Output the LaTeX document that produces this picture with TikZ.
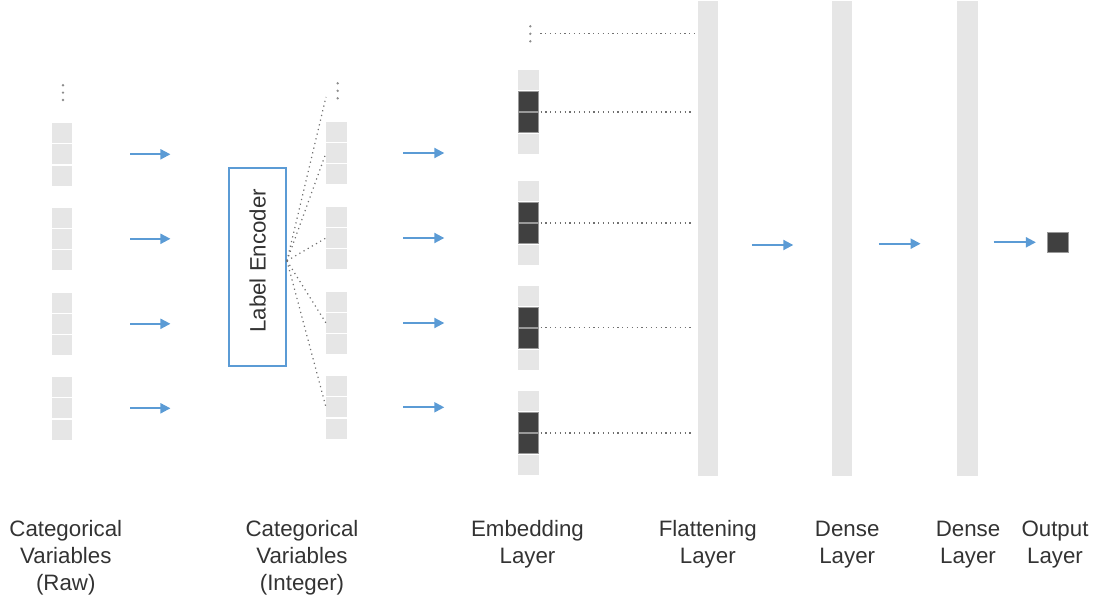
\documentclass[tikz,border=0pt]{standalone}
\usepackage{fontspec}
\usepackage{graphicx}
\setmainfont{Liberation Sans}
\usetikzlibrary{arrows.meta,calc}
\definecolor{cellgray}{HTML}{E6E6E6}
\definecolor{darkcell}{HTML}{404040}
\definecolor{arrowblue}{HTML}{5B9BD5}
\definecolor{dotgray}{HTML}{707070}
\definecolor{txt}{HTML}{333333}
\begin{document}
\begin{tikzpicture}[x=1pt,y=-1pt,
  cell/.style={fill=cellgray, minimum width=20.5pt, minimum height=20pt, inner sep=0pt, outer sep=0pt, anchor=north west},
  dcell/.style={cell, fill=darkcell, draw=black!40, line width=0.6pt},
  bar/.style={fill=cellgray, minimum width=20.3pt, minimum height=475pt, inner sep=0pt, outer sep=0pt, anchor=north west},
  arr/.style={draw=arrowblue, line width=2pt, -{Triangle[length=10pt,width=10pt]}},
  link/.style={draw=dotgray, line width=1.2pt, dash pattern=on 1.2pt off 3.6pt},
  vdot/.style={circle, fill=black!45, inner sep=0pt, minimum size=2.6pt},
  lbl/.style={font=\fontsize{22.3}{27}\selectfont, text=txt, align=center, anchor=base, inner sep=0pt},
  encbox/.style={draw=arrowblue, line width=1.5pt, minimum width=57pt, minimum height=198pt, inner sep=0pt, font=\fontsize{22.3}{27}\selectfont, text=txt}
]
\useasboundingbox (0,0) rectangle (1102,604);

% raw column
\foreach \g/\y in {1/123,2/207.5,3/292.5,4/377}{
  \foreach \c in {0,1,2}{
    \node[cell] (raw\g-\c) at (51.5, \y+\c*21.3) {};
  }
}
\node[vdot] (rawd1) at (63,85.3) {};
\node[vdot] (rawd2) at (63,92.7) {};
\node[vdot] (rawd3) at (63,100) {};

% label encoder
\node[encbox] (enc) at (257.7,266.8) {\rotatebox{90}{\hspace{12pt}Label Encoder}};
\coordinate (fan) at ([yshift=6pt]enc.east);

% integer column
\foreach \g/\y in {1/121.7,2/206.7,3/291.7,4/376}{
  \foreach \c in {0,1,2}{
    \node[cell] (int\g-\c) at (326, \y+\c*21.3) {};
  }
}
\node[vdot] (intd1) at (337.7,83.3) {};
\node[vdot] (intd2) at (337.7,90.8) {};
\node[vdot] (intd3) at (337.7,98.3) {};
\coordinate (intop) at (326,97);

% embedding column
\foreach \g/\y in {1/70,2/181,3/285.7,4/391}{
  \node[cell] (emb\g-0) at (518, \y) {};
  \node[dcell] (emb\g-1) at (518, \y+21.3) {};
  \node[dcell] (emb\g-2) at (518, \y+42.6) {};
  \node[cell] (emb\g-3) at (518, \y+63.9) {};
}
\node[vdot] (embd1) at (530.3,26.3) {};
\node[vdot] (embd2) at (530.3,33.8) {};
\node[vdot] (embd3) at (530.3,41.3) {};

% bars
\node[bar] (flat) at (698,1) {};
\node[bar] (dense1) at (832,1) {};
\node[bar] (dense2) at (957.2,1) {};
\node[dcell, minimum width=20.5pt, minimum height=20.3pt] (out) at (1047.5,232) {};

% arrows set 1
\foreach \g in {1,2,3,4}{
  \draw[arr, shorten <=58pt, shorten >=58pt] (raw\g-1.east) -- (raw\g-1.east -| enc.west);
}
% fan lines
\draw[link] (fan) -- (intop);
\foreach \g in {1,2,3,4}{
  \draw[link] (fan) -- (int\g-1.west);
}
% arrows set 2
\foreach \g in {1,2,3,4}{
  \draw[arr, shorten <=56.8pt, shorten >=73.7pt] (int\g-1.east) -- (int\g-1.east -| emb1-0.west);
}
% embedding links
\draw[link, shorten <=8.5pt, shorten >=4pt] (embd2) -- (flat.west |- embd2);
\foreach \g in {1,2,3,4}{
  \coordinate (em\g) at ($(emb\g-1.south east)!0.5!(emb\g-2.north east)$);
  \draw[link, shorten <=2pt, shorten >=4pt] (em\g) -- (flat.west |- em\g);
}
% arrows set 3
\draw[arr, shorten <=33.5pt, shorten >=38.7pt] (flat.east |- 0,245) -- (dense1.west |- 0,245);
\draw[arr, shorten <=26.5pt, shorten >=36.6pt] (dense1.east |- 0,243.7) -- (dense2.west |- 0,243.7);
\draw[arr, shorten <=16pt, shorten >=11.6pt] (dense2.east |- 0,242.3) -- (out.west |- 0,242.3);

% labels (base anchor = baseline of last line)
\node[lbl] (l1) at (65.8,590.7) {Categorical\\Variables\\(Raw)};
\node[lbl] (l2) at (302,590.7) {Categorical\\Variables\\(Integer)};
\node[lbl] (l3) at (527.5,563.7) {Embedding\\Layer};
\node[lbl] (l4) at (707.8,563.7) {Flattening\\Layer};
\node[lbl] (l5) at (847.2,563.7) {Dense\\Layer};
\node[lbl] (l6) at (968,563.7) {Dense\\Layer};
\node[lbl] (l7) at (1055,563.7) {Output\\Layer};
\end{tikzpicture}
\end{document}
